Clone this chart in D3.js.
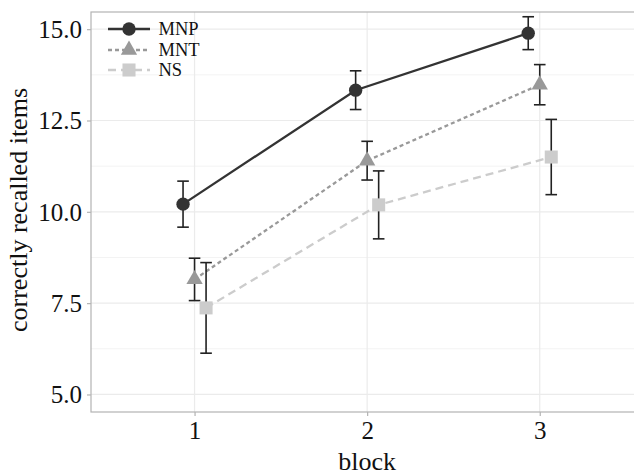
<!DOCTYPE html>
<html><head><meta charset="utf-8">
<script src="https://cdn.jsdelivr.net/npm/d3@7"></script>
<style>body{margin:0;background:#fff}svg{display:block}</style>
</head><body>
<svg id="c" width="634" height="472"></svg>
<script>
const blocks = [1, 2, 3];
const groups = ["MNP", "MNT", "NS"];
const meanMNP = [10.21, 13.33, 14.89];
const errMNP  = [0.63, 0.53, 0.45];
const meanMNT = [8.15, 11.40, 13.48];
const errMNT  = [0.58, 0.53, 0.55];
const meanNS  = [7.37, 10.19, 11.50];
const errNS   = [1.24, 0.93, 1.03];
const yTicks = [5.0, 7.5, 10.0, 12.5, 15.0];
const yMinor = [6.25, 8.75, 11.25, 13.75];
const xTicks = [1, 2, 3];

const means = {MNP: meanMNP, MNT: meanMNT, NS: meanNS};
const errs = {MNP: errMNP, MNT: errMNT, NS: errNS};
const styles = {
  MNP: {color: "#333333", dash: null, shape: d3.symbolCircle, size: 140},
  MNT: {color: "#999999", dash: "4,3", shape: d3.symbolTriangle, size: 115},
  NS:  {color: "#cccccc", dash: "8,5", shape: d3.symbolSquare, size: 170}
};
const dodge = {MNP: -0.0667, MNT: 0, NS: 0.0667};

const svg = d3.select("#c");
const font = "Liberation Serif, Times New Roman, serif";
const L = 91, T = 12, B = 412;
const x = d3.scaleLinear().domain([0.4, 3.6]).range([L, 643.3]);
const y = d3.scaleLinear().domain([4.52, 15.47]).range([B, T]);

// grid
const g = svg.append("g");
g.selectAll(".ymin").data(yMinor).join("line")
  .attr("x1", L).attr("x2", 643).attr("y1", d => y(d)).attr("y2", d => y(d))
  .attr("stroke", "#f3f3f3").attr("stroke-width", 1);
g.selectAll(".ymaj").data(yTicks).join("line")
  .attr("x1", L).attr("x2", 643).attr("y1", d => y(d)).attr("y2", d => y(d))
  .attr("stroke", "#ebebeb").attr("stroke-width", 1.2);
g.selectAll(".xmaj").data(xTicks).join("line")
  .attr("y1", T).attr("y2", B).attr("x1", d => x(d)).attr("x2", d => x(d))
  .attr("stroke", "#ebebeb").attr("stroke-width", 1.2);

// border
svg.append("rect").attr("x", L).attr("y", T).attr("width", 643.3 - L).attr("height", B - T)
  .attr("fill", "none").attr("stroke", "#b3b3b3").attr("stroke-width", 1.2);

// axes
const yAxis = d3.axisLeft(y).tickValues(yTicks).tickFormat(d3.format(".1f")).tickSize(4).tickPadding(5);
const ya = svg.append("g").attr("transform", `translate(${L},0)`).call(yAxis);
const xAxis = d3.axisBottom(x).tickValues(xTicks).tickFormat(d3.format("d")).tickSize(4).tickPadding(6);
const xa = svg.append("g").attr("transform", `translate(0,${B})`).call(xAxis);
[ya, xa].forEach(a => {
  a.select(".domain").remove();
  a.selectAll(".tick line").attr("stroke", "#b3b3b3").attr("stroke-width", 1.2);
  a.selectAll("text").attr("font-family", font).attr("font-size", 25).attr("fill", "#111");
});
ya.selectAll("text").attr("dy", "0.34em");
xa.selectAll("text").attr("dy", "0.69em");

// titles
svg.append("text").attr("transform", `translate(27,210) rotate(-90)`)
  .attr("text-anchor", "middle").attr("font-family", font).attr("font-size", 26).attr("fill", "#111")
  .text("correctly recalled items");
svg.append("text").attr("x", x(2)).attr("y", 469.5)
  .attr("text-anchor", "middle").attr("font-family", font).attr("font-size", 26).attr("fill", "#111")
  .text("block");

// lines
const line = d3.line().x(d => x(d[0])).y(d => y(d[1]));
groups.forEach(gr => {
  const pts = blocks.map((b, i) => [b + dodge[gr], means[gr][i]]);
  svg.append("path").datum(pts).attr("d", line).attr("fill", "none")
    .attr("stroke", styles[gr].color).attr("stroke-width", 2.3)
    .attr("stroke-dasharray", styles[gr].dash);
});
// error bars
groups.forEach(gr => {
  blocks.forEach((b, i) => {
    const cx = x(b + dodge[gr]);
    const lo = y(means[gr][i] - errs[gr][i]), hi = y(means[gr][i] + errs[gr][i]);
    const eb = svg.append("g").attr("stroke", "#222").attr("stroke-width", 1.6);
    eb.append("line").attr("x1", cx).attr("x2", cx).attr("y1", lo).attr("y2", hi);
    eb.append("line").attr("x1", cx - 5.8).attr("x2", cx + 5.8).attr("y1", lo).attr("y2", lo);
    eb.append("line").attr("x1", cx - 5.8).attr("x2", cx + 5.8).attr("y1", hi).attr("y2", hi);
  });
});
// points
groups.forEach(gr => {
  const s = styles[gr];
  blocks.forEach((b, i) => {
    svg.append("path").attr("d", d3.symbol().type(s.shape).size(s.size)())
      .attr("transform", `translate(${x(b + dodge[gr])},${y(means[gr][i])})`)
      .attr("fill", s.color);
  });
});

// legend
const lg = svg.append("g");
const rowY = [29, 50, 70];
groups.forEach((gr, i) => {
  const s = styles[gr];
  lg.append("line").attr("x1", 108).attr("x2", 150).attr("y1", rowY[i]).attr("y2", rowY[i])
    .attr("stroke", s.color).attr("stroke-width", 2.3).attr("stroke-dasharray", s.dash);
  lg.append("path").attr("d", d3.symbol().type(s.shape).size(s.size)())
    .attr("transform", `translate(129,${rowY[i]})`).attr("fill", s.color);
  lg.append("text").attr("x", 158.5).attr("y", rowY[i]).attr("dy", "0.35em")
    .attr("font-family", font).attr("font-size", 18.5).attr("fill", "#111").text(gr);
});
</script>
</body></html>
